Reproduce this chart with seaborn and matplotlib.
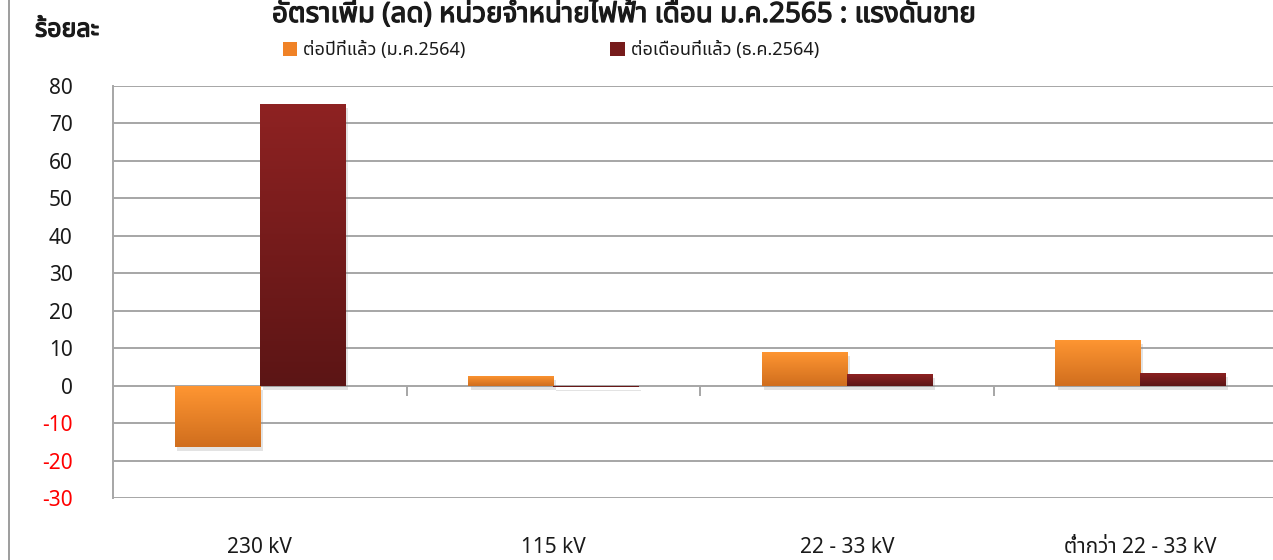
import numpy as np
import pandas as pd
import matplotlib
matplotlib.use("Agg")
import matplotlib.pyplot as plt
import seaborn as sns
from matplotlib import font_manager as fm
from matplotlib.ft2font import FT2Font
from matplotlib.patches import Rectangle
from matplotlib.lines import Line2D
import matplotlib.patheffects as pe

# ---------------- data ----------------
categories = ["230 kV", "115 kV", "22 - 33 kV", "ต่ำกว่า 22 - 33 kV"]
series_names = ["ต่อปีที่แล้ว (ม.ค.2564)", "ต่อเดือนที่แล้ว (ธ.ค.2564)"]
yoy_values = [-16.3, 2.7, 9.1, 12.3]
mom_values = [75.3, -0.3, 3.2, 3.5]
y_ticks = list(range(-30, 81, 10))
title_text = "อัตราเพิ่ม (ลด) หน่วยจำหน่ายไฟฟ้า เดือน ม.ค.2565 : แรงดันขาย"
ylabel_text = "ร้อยละ"

# ---------------- font detection (Thai) ----------------
def find_thai_font():
    preferred = ["Noto Sans Thai", "Noto Sans Thai UI", "Sarabun", "Loma", "Garuda",
                 "Waree", "Norasi", "Kinnari", "Umpush", "Laksaman", "Tlwg Typo"]
    found = {}
    for f in fm.findSystemFonts():
        try:
            cm = FT2Font(f).get_charmap()
        except Exception:
            continue
        if 0x0E23 in cm and 0x0E48 in cm and 0x0E34 in cm:
            try:
                name = fm.FontProperties(fname=f).get_name()
            except Exception:
                continue
            found.setdefault(name, f)
    for p in preferred:
        if p in found:
            return p
    if found:
        return sorted(found)[0]
    return None

thai_font = find_thai_font()

sns.set_theme(style="white")
fams = ([thai_font] if thai_font else []) + ["DejaVu Sans"]
plt.rcParams["font.family"] = fams

TEXT = "#1a1a1a"
ORANGE = ("#FF9632", "#D06E1E")
DARKRED = ("#8E2222", "#5C1515")
GRID = "#A6A6A6"
bold_fx = [pe.withStroke(linewidth=0.9, foreground=TEXT)]

df = pd.DataFrame({
    "category": categories * 2,
    "series": [series_names[0]] * 4 + [series_names[1]] * 4,
    "value": yoy_values + mom_values,
})

fig = plt.figure(figsize=(12.73, 5.6), dpi=100)
ax = fig.add_axes([113 / 1273, 62 / 560, (1287 - 113) / 1273, 412 / 560])

sns.barplot(data=df, x="category", y="value", hue="series", order=categories,
            hue_order=series_names, palette=[ORANGE[0], DARKRED[0]],
            width=0.58, dodge=True, ax=ax, legend=False, saturation=1,
            linewidth=0, zorder=3)

ax.set_ylim(-30, 80)
ax.set_xlim(-0.5, len(categories) - 0.5)
ax.set_yticks(y_ticks)
ax.yaxis.grid(True, color=GRID, linewidth=1.4, zorder=0)
ax.xaxis.grid(False)
for s in ["top", "right", "bottom"]:
    ax.spines[s].set_visible(False)
ax.spines["left"].set_color(GRID)
ax.spines["left"].set_linewidth(1.4)
ax.set_xlabel("")
ax.set_ylabel("")
ax.tick_params(axis="y", length=0, pad=29, labelsize=15, labelcolor=TEXT)
ax.tick_params(axis="x", length=0, pad=28, labelsize=15, labelcolor=TEXT)
for lab, v in zip(ax.get_yticklabels(), y_ticks):
    if v < 0:
        lab.set_color("#FF0000")

# boundary ticks below zero line
ax.vlines(np.arange(len(categories) - 1) + 0.5, -2.7, 0, color=GRID, lw=1.4, zorder=2)

# gradient fill for bars
bars = [p for p in ax.patches if isinstance(p, Rectangle) and p.get_width() > 0]
n = len(categories)
for i, p in enumerate(bars):
    cols = ORANGE if i < n else DARKRED
    x0, y0 = p.get_x(), p.get_y()
    w, h = p.get_width(), p.get_height()
    ylo, yhi = min(y0, y0 + h), max(y0, y0 + h)
    c1 = np.array(matplotlib.colors.to_rgb(cols[0]))
    c2 = np.array(matplotlib.colors.to_rgb(cols[1]))
    t = np.linspace(0, 1, 64)[:, None]
    grad = (c1 * (1 - t) + c2 * t)[:, None, :]
    p.set_path_effects([pe.SimplePatchShadow(offset=(2, -3), shadow_rgbFace="#909090", alpha=0.25),
                        pe.Normal()])
    im = ax.imshow(grad, extent=[x0, x0 + w, ylo, yhi], origin="upper",
                   aspect="auto", zorder=4, interpolation="bilinear")
    im.set_clip_path(p)

ax.set_ylim(-30, 80)
ax.set_xlim(-0.5, len(categories) - 0.5)

# legend
handles = [Rectangle((0, 0), 1, 1, facecolor="#F08226", edgecolor="none"),
           Rectangle((0, 0), 1, 1, facecolor="#761B1B", edgecolor="none")]
fig.legend(handles, series_names, loc="center", bbox_to_anchor=(551 / 1273, 1 - 50 / 560),
           ncol=2, frameon=False, fontsize=13, handlelength=0.8, handleheight=0.8,
           handletextpad=0.35, columnspacing=8.0, labelcolor=TEXT)

# title (at the very top, as in the reference)
fig.text(624 / 1273, 1 - 1 / 560, title_text, ha="center", va="top",
         fontsize=20, color=TEXT, path_effects=bold_fx)
fig.text(35 / 1273, 1 - 30 / 560, ylabel_text, ha="left", va="center",
         fontsize=18, color=TEXT, path_effects=bold_fx)

# chart-area border on the left
fig.add_artist(Line2D([9 / 1273, 9 / 1273], [0, 1], color="#8C8C8C", lw=1.2))

fig.savefig("out.png", dpi=100)
